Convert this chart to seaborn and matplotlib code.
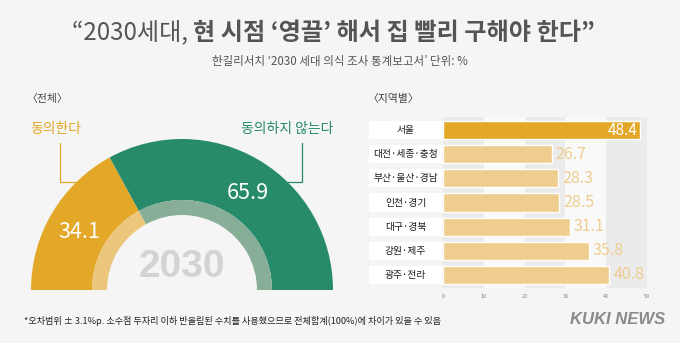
import matplotlib
matplotlib.use("Agg")
import matplotlib.pyplot as plt
from matplotlib.patches import Wedge, Rectangle
from matplotlib import transforms
import seaborn as sns
import pandas as pd

# ---- data -------------------------------------------------------------
overall_labels = ["동의한다", "동의하지 않는다"]
overall_values = [34.1, 65.9]

regions = ["서울", "대전·세종·충청", "부산·울산·경남", "인천·경기",
           "대구·경북", "강원·제주", "광주·전라"]
region_values = [48.4, 26.7, 28.3, 28.5, 31.1, 35.8, 40.8]
x_ticks = [0, 10, 20, 30, 40, 50]

title_light = "“2030세대, "
title_bold = "현 시점 ‘영끌’ 해서 집 빨리 구해야 한다”"
subtitle = "한길리서치 ‘2030 세대 의식 조사 통계보고서’ 단위: %"
footnote = "*오차범위 ± 3.1%p. 소수점 두자리 이하 반올림된 수치를 사용했으므로 전체합계(100%)에 차이가 있을 수 있음"

# ---- style ------------------------------------------------------------
sns.set_theme(style="white")
plt.rcParams["font.family"] = ["Noto Sans CJK KR", "DejaVu Sans"]

BG = "#f4f5f4"
GOLD = "#e4a828"
GREEN = "#268a6b"
GOLD_LIGHT = "#ecc67c"
GREEN_LIGHT = "#88ae98"
BAR_LIGHT = "#efcd8f"
TITLE_C = "#555555"
NARROW = ["Liberation Sans Narrow", "Liberation Sans", "DejaVu Sans"]

W, H = 680, 343
fig = plt.figure(figsize=(W / 100, H / 100), dpi=100, facecolor=BG)

# full-figure layer in pixel units (y measured from the top)
base = fig.add_axes([0, 0, 1, 1])
base.set_xlim(0, W)
base.set_ylim(H, 0)
base.axis("off")

# ---- title ------------------------------------------------------------
t1 = base.text(72, 33, title_light, fontsize=17.4, color=TITLE_C,
               va="center", ha="left", fontweight="light")
fig.canvas.draw()
bb = t1.get_window_extent(renderer=fig.canvas.get_renderer())
base.text(bb.x1, 33, title_bold, fontsize=17.4, color=TITLE_C,
          va="center", ha="left", fontweight="bold",
          transform=transforms.blended_transform_factory(
              transforms.IdentityTransform(), base.transData))
base.text(340, 61, subtitle, fontsize=8.3, color="#555555",
          ha="center", va="center")

base.text(27, 99, "〈전체〉", fontsize=7.8, color="#444444", va="center")
base.text(368, 99, "〈지역별〉", fontsize=7.8, color="#444444", va="center")

# ---- gauge (overall) ---------------------------------------------------
gauge = fig.add_axes([0, 0, 1, 1])
gauge.set_xlim(0, W)
gauge.set_ylim(0, H)
gauge.axis("off")
gauge.patch.set_alpha(0)

cx, cy = 182, H - 290
r_out, r_mid, r_in = 151, 90, 75
split = 180 - 180 * overall_values[0] / sum(overall_values)
gauge.add_patch(Wedge((cx, cy), r_out, split, 180, width=r_out - r_mid,
                      color=GOLD, lw=0))
gauge.add_patch(Wedge((cx, cy), r_out, 0, split, width=r_out - r_mid,
                      color=GREEN, lw=0))
gauge.add_patch(Wedge((cx, cy), r_mid, split, 180, width=r_mid - r_in,
                      color=GOLD_LIGHT, lw=0))
gauge.add_patch(Wedge((cx, cy), r_mid, 0, split, width=r_mid - r_in,
                      color=GREEN_LIGHT, lw=0))

gauge.text(79, H - 232, f"{overall_values[0]:.1f}", fontsize=15.5,
           color="white", ha="center", va="center", fontweight="light")
gauge.text(248, H - 193, f"{overall_values[1]:.1f}", fontsize=15.5,
           color="white", ha="center", va="center", fontweight="light")
gauge.text(cx, H - 267, "2030", fontsize=28, color="#d3d3d3",
           ha="center", va="center", fontweight="bold", family=NARROW)

# category labels with leader lines
gauge.text(30, H - 129, overall_labels[0], fontsize=10, color=GOLD,
           ha="left", va="center")
gauge.plot([60, 60, 76], [H - 143, H - 182, H - 182], color=GOLD, lw=0.9)
gauge.text(333, H - 129, overall_labels[1], fontsize=10, color=GREEN,
           ha="right", va="center")
gauge.plot([302, 302, 287], [H - 143, H - 182, H - 182], color=GREEN, lw=0.9)

# ---- regional bars -----------------------------------------------------
x0, x1 = 443, 647
y_top, y_bot = 117, 288
ax = fig.add_axes([x0 / W, 1 - y_bot / H, (x1 - x0) / W, (y_bot - y_top) / H])
ax.set_facecolor("#f9f9f9")

for lo in (0, 20, 40):
    ax.axvspan(lo, lo + 10, color="#ebebeb", lw=0, zorder=0)

df = pd.DataFrame({"region": regions, "value": region_values})
colors = [GOLD] + [BAR_LIGHT] * (len(regions) - 1)
sns.barplot(data=df, x="value", y="region", hue="region", palette=colors,
            legend=False, width=0.745, ax=ax, saturation=1, zorder=2)

ax.set_xlim(0, 50)
ax.set_ylim(len(regions) - 0.462, -0.538)
ax.set_xticks(x_ticks)
ax.set_xticklabels([str(t) for t in x_ticks], fontsize=4, color="#888888")
ax.tick_params(axis="x", length=0, pad=4)
ax.set_yticks([])
ax.set_xlabel("")
ax.set_ylabel("")
for s in ax.spines.values():
    s.set_visible(False)

ytr = transforms.blended_transform_factory(ax.transAxes, ax.transData)
box_l = (369 - x0) / (x1 - x0)
box_r = (442 - x0) / (x1 - x0)
for i, (name, v) in enumerate(zip(regions, region_values)):
    ax.add_patch(Rectangle((box_l, i - 0.3725), box_r - box_l, 0.745,
                           transform=ytr, color="white", lw=0,
                           clip_on=False, zorder=3))
    ax.text((box_l + box_r) / 2, i, name, transform=ytr, fontsize=7,
            color="#1a1a1a", ha="center", va="center", clip_on=False,
            fontweight="medium", zorder=4)
    if i == 0:
        ax.text(v - 0.8, i, f"{v:.1f}", fontsize=11, color="white",
                ha="right", va="center", fontweight="light", zorder=5)
    else:
        ax.text(v + 0.9, i, f"{v:.1f}", fontsize=11.5, color=BAR_LIGHT,
                ha="left", va="center", fontweight="light", zorder=5)

# ---- footer ------------------------------------------------------------
base.text(24, 321, footnote, fontsize=6.6, color="#222222",
          ha="left", va="center")
base.text(665, 319, "KUKI NEWS", fontsize=12, color="#8a8a8a",
          ha="right", va="center", fontweight="bold", style="italic",
          family=NARROW)

fig.savefig("out.png", dpi=100, facecolor=BG)
